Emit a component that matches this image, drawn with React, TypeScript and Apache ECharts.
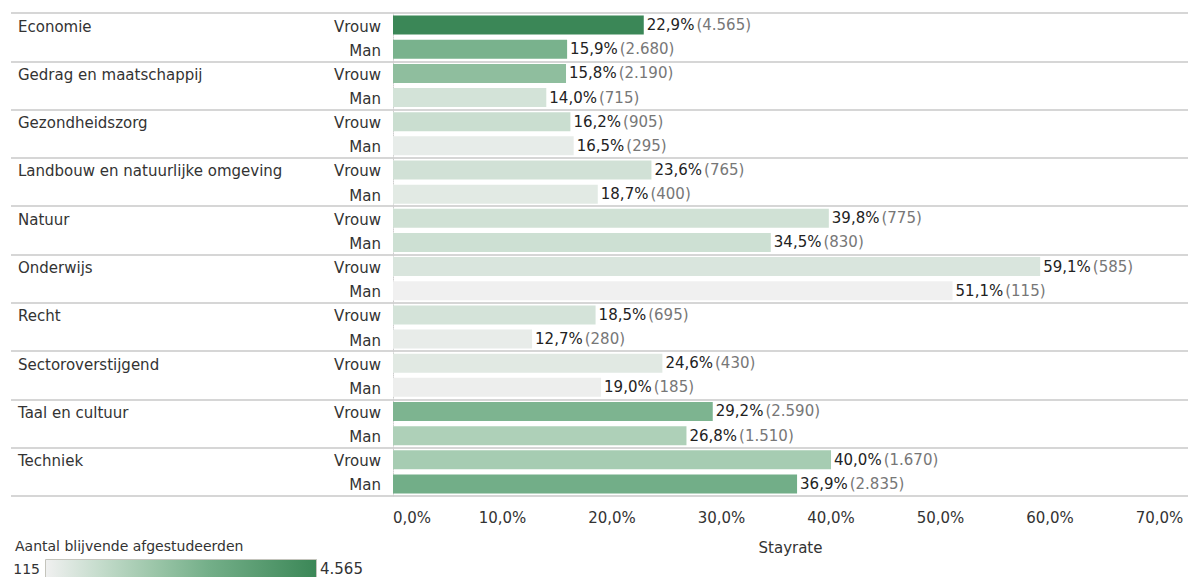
import React, { useEffect, useRef } from "react";
import * as echarts from "echarts";

const categories = [
  "Economie",
  "Gedrag en maatschappij",
  "Gezondheidszorg",
  "Landbouw en natuurlijke omgeving",
  "Natuur",
  "Onderwijs",
  "Recht",
  "Sectoroverstijgend",
  "Taal en cultuur",
  "Techniek",
];
const genders = ["Vrouw", "Man"];
const vrouwRate = [22.9, 15.8, 16.2, 23.6, 39.8, 59.1, 18.5, 24.6, 29.2, 40.0];
const vrouwCount = [4565, 2190, 905, 765, 775, 585, 695, 430, 2590, 1670];
const manRate = [15.9, 14.0, 16.5, 18.7, 34.5, 51.1, 12.7, 19.0, 26.8, 36.9];
const manCount = [2680, 715, 295, 400, 830, 115, 280, 185, 1510, 2835];
const xTicks = [0, 10, 20, 30, 40, 50, 60, 70];
const legendTitle = "Aantal blijvende afgestudeerden";
const axisName = "Stayrate";
const rampColors = ["#f0f0f0", "#c5dccc", "#9cc6a9", "#74af89", "#589b70", "#3b8757"];

const FONT = "DejaVu Sans";

const fmtPct = (v: number) => v.toFixed(1).replace(".", ",") + "%";
const fmtCount = (v: number) =>
  String(v).replace(/\B(?=(\d{3})+(?!\d))/g, ".");

export default function App() {
  const ref = useRef<HTMLDivElement>(null);

  useEffect(() => {
    if (!ref.current) return;
    const chart = echarts.init(ref.current, undefined, { renderer: "svg" });

    const rows: string[] = [];
    const data: any[] = [];
    categories.forEach((c, i) => {
      rows.push(c + "|" + genders[0]);
      data.push({ value: [vrouwRate[i], rows.length - 1, vrouwCount[i]] });
      rows.push(c + "|" + genders[1]);
      data.push({ value: [manRate[i], rows.length - 1, manCount[i]] });
    });

    const minCount = Math.min(...vrouwCount, ...manCount);
    const maxCount = Math.max(...vrouwCount, ...manCount);

    const top = 13;
    const height = 483;

    const gradient = new echarts.graphic.LinearGradient(
      0,
      0,
      1,
      0,
      rampColors.map((c, i) => ({ offset: i / (rampColors.length - 1), color: c }))
    );

    chart.setOption({
      animation: false,
      textStyle: { fontFamily: FONT },
      title: {
        text: legendTitle,
        left: 10,
        top: 534,
        textStyle: { fontFamily: FONT, fontSize: 14, fontWeight: "normal", color: "#333" },
      },
      graphic: [
        {
          type: "rect",
          shape: { x: 45.5, y: 559.5, width: 271, height: 20 },
          style: { fill: gradient, stroke: "#c4c4bc", lineWidth: 1 },
        },
        {
          type: "text",
          x: 40,
          y: 569,
          style: {
            text: fmtCount(minCount),
            align: "right",
            verticalAlign: "middle",
            font: `14px "${FONT}"`,
            fill: "#333",
          },
        },
        {
          type: "text",
          x: 320,
          y: 569,
          style: {
            text: fmtCount(maxCount),
            align: "left",
            verticalAlign: "middle",
            font: `15px "${FONT}"`,
            fill: "#333",
          },
        },
      ],
      grid: [
        { left: 11, right: 0, top, height },
        { left: 393, right: 0, top, height },
      ],
      xAxis: [
        { type: "value", gridIndex: 0, show: false, min: 0, max: 1 },
        {
          type: "value",
          gridIndex: 1,
          min: 0,
          max: 72.6,
          interval: 10,
          axisLine: { show: false },
          axisTick: { show: false },
          splitLine: { show: false },
          axisLabel: {
            margin: 14,
            fontSize: 15,
            color: "#333",
            fontFamily: FONT,
            showMaxLabel: false,
            alignMinLabel: "left",
            formatter: (v: number) => (xTicks.includes(v) ? fmtPct(v) : ""),
          },
          name: axisName,
          nameLocation: "middle",
          nameGap: 44,
          nameTextStyle: { fontSize: 15, color: "#333", fontFamily: FONT },
        },
      ],
      yAxis: [
        {
          type: "category",
          gridIndex: 0,
          data: categories,
          inverse: true,
          axisLabel: { show: false },
          axisLine: { show: false },
          axisTick: { show: false },
          splitLine: { show: true, lineStyle: { color: "#d6d6d6", width: 2 } },
        },
        {
          type: "category",
          gridIndex: 1,
          data: rows,
          inverse: true,
          axisTick: { show: false },
          axisLine: { show: true, lineStyle: { color: "#cfcfcf", type: "dotted", width: 1 } },
          splitLine: { show: false },
          axisLabel: {
            interval: 0,
            margin: 12,
            fontFamily: FONT,
            fontSize: 15,
            color: "#333",
            formatter: (v: string, idx: number) => {
              const [c, g] = v.split("|");
              return idx % 2 === 0 ? `{cat|${c}}{g|${g}}` : `{g|${g}}`;
            },
            rich: {
              cat: { width: 308, align: "left", fontSize: 15, fontFamily: FONT, color: "#333", padding: [3, 0, 0, 0] },
              g: { width: 55, align: "right", fontSize: 15, fontFamily: FONT, color: "#333", padding: [3, 0, 0, 0] },
            },
          },
        },
      ],
      visualMap: {
        type: "continuous",
        show: false,
        dimension: 2,
        seriesIndex: 0,
        min: minCount,
        max: maxCount,
        inRange: { color: rampColors },
      },
      series: [
        {
          type: "bar",
          xAxisIndex: 1,
          yAxisIndex: 1,
          barWidth: 19,
          encode: { x: 0, y: 1 },
          data,
          label: {
            show: true,
            position: "right",
            distance: 3,
            formatter: (p: any) =>
              `{a|${fmtPct(p.value[0])}}{b|(${fmtCount(p.value[2])})}`,
            rich: {
              a: { fontFamily: FONT, fontSize: 15, color: "#222" },
              b: { fontFamily: FONT, fontSize: 15, color: "#777", padding: [0, 0, 0, 2] },
            },
          },
        },
      ],
    });

    return () => chart.dispose();
  }, []);

  return (
    <div
      ref={ref}
      style={{ position: "absolute", left: 0, top: 0, width: 1188, height: 577 }}
    />
  );
}
